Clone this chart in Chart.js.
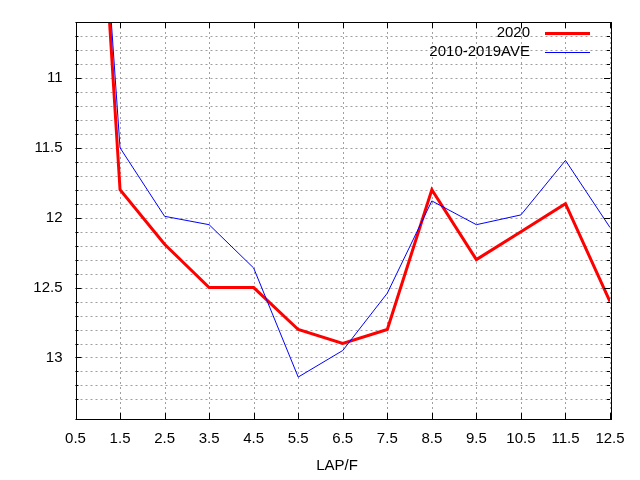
<!DOCTYPE html>
<html>
<head>
<meta charset="utf-8">
<script src="https://cdn.jsdelivr.net/npm/chart.js@4/dist/chart.umd.min.js"></script>
<style>
html,body{margin:0;padding:0;background:#fff;}
#wrap{width:640px;height:480px;}
</style>
</head>
<body>
<div id="wrap"><canvas id="lapChart"></canvas></div>
<script>
// lap positions (x) and the two series
const laps = [0.5, 1.5, 2.5, 3.5, 4.5, 5.5, 6.5, 7.5, 8.5, 9.5, 10.5, 11.5, 12.5];
const lap2020 = [6.7, 11.8, 12.19, 12.5, 12.5, 12.8, 12.9, 12.8, 11.8, 12.3, 12.1, 11.9, 12.6];
const lapAve = [6.9, 11.5, 11.99, 12.05, 12.36, 13.14, 12.95, 12.54, 11.88, 12.05, 11.98, 11.59, 12.07];
const seriesNames = ['2020', '2010-2019AVE'];
const seriesColors = ['#ff0000', '#0000ff'];
const seriesWidths = [3, 1];
const xTitle = 'LAP/F';

const FONT = '"Liberation Sans", Arial, sans-serif';

function isMajor(v){
    return Math.abs(v*2 - Math.round(v*2)) < 1e-6;
}

//dashed grid under the lines, gnuplot style
const gridPlugin = {
    id:'dashGrid',
    beforeDatasetsDraw(chart){
        const ctx = chart.ctx;
        const a = chart.chartArea;
        const xs = chart.scales.x, ys = chart.scales.y;
        ctx.save();
        ctx.strokeStyle = '#a0a0a0';
        ctx.lineWidth = 1;
        ctx.setLineDash([2,3]);
        ctx.beginPath();
        xs.ticks.forEach(t=>{
            const px = Math.round(xs.getPixelForValue(t.value)) + 0.5;
            ctx.moveTo(px, a.top); ctx.lineTo(px, a.bottom);
        });
        ys.ticks.forEach(t=>{
            const py = Math.round(ys.getPixelForValue(t.value)) + 0.5;
            ctx.moveTo(a.left, py); ctx.lineTo(a.right, py);
        });
        ctx.stroke();
        ctx.restore();
    }
};

//frame, inward ticks, legend and axis title
const framePlugin = {
    id:'frame',
    afterDraw(chart){
        const ctx = chart.ctx;
        const a = chart.chartArea;
        const xs = chart.scales.x, ys = chart.scales.y;
        ctx.save();
        ctx.strokeStyle = '#000';
        ctx.lineWidth = 1;
        ctx.setLineDash([]);
        ctx.beginPath();
        xs.ticks.forEach(t=>{
            const px = Math.round(xs.getPixelForValue(t.value)) + 0.5;
            ctx.moveTo(px, a.bottom); ctx.lineTo(px, a.bottom - 6);
            ctx.moveTo(px, a.top); ctx.lineTo(px, a.top + 6);
        });
        ys.ticks.forEach(t=>{
            const py = Math.round(ys.getPixelForValue(t.value)) + 0.5;
            const len = isMajor(t.value) ? 6 : 3;
            ctx.moveTo(a.left, py); ctx.lineTo(a.left + len, py);
            ctx.moveTo(a.right, py); ctx.lineTo(a.right - len, py);
        });
        ctx.stroke();
        ctx.strokeRect(Math.round(a.left)+0.5, Math.round(a.top)+0.5, Math.round(a.right-a.left), Math.round(a.bottom-a.top));

        // legend
        ctx.font = '15px ' + FONT;
        ctx.textAlign = 'right';
        ctx.textBaseline = 'middle';
        seriesNames.forEach((name, i)=>{
            const y = 33 + i*18.5;
            ctx.fillStyle = '#000';
            ctx.fillText(name, 530, y);
            ctx.strokeStyle = seriesColors[i];
            ctx.lineWidth = seriesWidths[i];
            ctx.beginPath();
            ctx.moveTo(545, Math.round(y) + (seriesWidths[i] % 2 ? 0.5 : 0));
            ctx.lineTo(590, Math.round(y) + (seriesWidths[i] % 2 ? 0.5 : 0));
            ctx.stroke();
        });

        // x title
        ctx.textAlign = 'center';
        ctx.fillStyle = '#000';
        ctx.fillText(xTitle, 337, 466);
        ctx.restore();
    }
};

const chart = new Chart(document.getElementById('lapChart'), {
    type:'line',
    data:{
        datasets:seriesNames.map((name, i)=>({
            label:name,
            data:laps.map((x, k)=>({x:x, y:(i === 0 ? lap2020 : lapAve)[k]})),
            borderColor:seriesColors[i],
            borderWidth:seriesWidths[i],
            pointRadius:0,
            tension:0,
            fill:false
        })).reverse()
    },
    options:{
        responsive:true,
        maintainAspectRatio:false,
        animation:false,
        layout:{padding:{left:0, top:19, right:30, bottom:0}},
        plugins:{legend:{display:false}, tooltip:{enabled:false}},
        scales:{
            x:{
                type:'linear',
                min:0.5, max:12.5,
                ticks:{stepSize:1, padding:11, color:'#000', font:{family:FONT, size:15},
                    maxRotation:0, autoSkip:false,
                    callback:v=>v.toFixed(1)},
                grid:{drawOnChartArea:false, drawTicks:false},
                border:{display:false},
                afterFit:s=>{ s.height = 61; }
            },
            y:{
                reverse:true,
                min:10.6, max:13.44,
                ticks:{stepSize:0.1, padding:13, color:'#000', font:{family:FONT, size:15},
                    autoSkip:false,
                    callback:v=>isMajor(v) ? String(Math.round(v*2)/2) : ''},
                grid:{drawOnChartArea:false, drawTicks:false},
                border:{display:false},
                afterFit:s=>{ s.width = 75.5; }
            }
        }
    },
    plugins:[gridPlugin, framePlugin]
});
</script>
</body>
</html>
